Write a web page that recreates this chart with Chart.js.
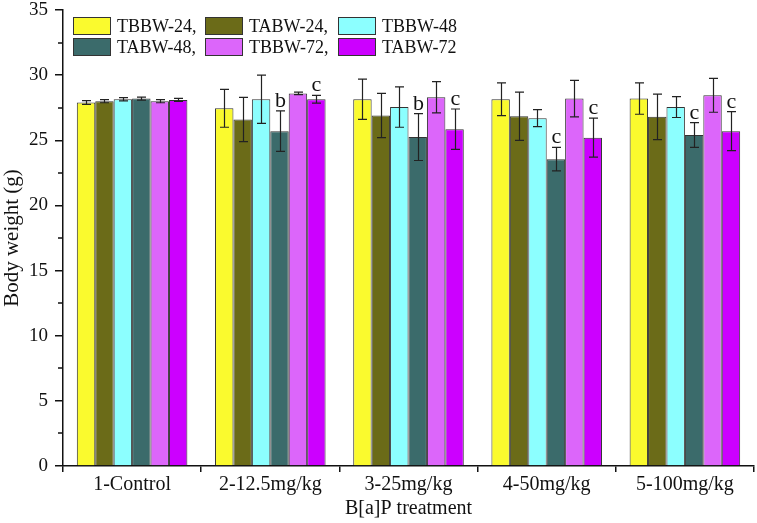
<!DOCTYPE html>
<html>
<head>
<meta charset="utf-8">
<script src="https://cdn.jsdelivr.net/npm/chart.js@4.4.1/dist/chart.umd.min.js"></script>
<style>
  html, body { margin: 0; padding: 0; background: #fff; }
  #wrap { width: 757px; height: 523px; }
</style>
</head>
<body>
<div id="wrap"><canvas id="c" width="757" height="523"></canvas></div>
<script>
const categories = ['1-Control', '2-12.5mg/kg', '3-25mg/kg', '4-50mg/kg', '5-100mg/kg'];
const seriesNames = ['TBBW-24,', 'TABW-24,', 'TBBW-48', 'TABW-48,', 'TBBW-72,', 'TABW-72'];

const tbbw24 = [27.9, 27.45, 28.15, 28.15, 28.2];
const tabw24 = [28.0, 26.6, 26.9, 26.85, 26.8];
const tbbw48 = [28.15, 28.15, 27.55, 26.7, 27.55];
const tabw48 = [28.2, 25.7, 25.25, 23.55, 25.4];
const tbbw72 = [28.0, 28.6, 28.3, 28.2, 28.45];
const tabw72 = [28.1, 28.15, 25.85, 25.2, 25.7];

const errTbbw24 = [0.15, 1.45, 1.55, 1.25, 1.2];
const errTabw24 = [0.12, 1.7, 1.7, 1.85, 1.75];
const errTbbw48 = [0.12, 1.85, 1.55, 0.65, 0.8];
const errTabw48 = [0.12, 1.55, 1.8, 0.9, 0.95];
const errTbbw72 = [0.12, 0.1, 1.2, 1.4, 1.3];
const errTabw72 = [0.12, 0.3, 1.55, 1.5, 1.5];

const sigTabw48 = ['', 'b', 'b', 'c', 'c'];
const sigTabw72 = ['', 'c', 'c', 'c', 'c'];

const yMinorTicks = [2.5, 7.5, 12.5, 17.5, 22.5, 27.5, 32.5];

const colors = ['#fafa2e', '#6b6b18', '#8cffff', '#3b6b6b', '#dc66fa', '#cc00ff'];
const values = [tbbw24, tabw24, tbbw48, tabw48, tbbw72, tabw72];
const errors = [errTbbw24, errTabw24, errTbbw48, errTabw48, errTbbw72, errTabw72];
const sigs = [null, null, null, sigTabw48, null, sigTabw72];

const serif = '"Liberation Serif", "Times New Roman", serif';

// error bars + significance letters
const errorBars = {
  id: 'errorBars',
  afterDatasetsDraw(chart) {
    const ctx = chart.ctx;
    const y = chart.scales.y;
    ctx.save();
    chart.data.datasets.forEach((ds, di) => {
      const meta = chart.getDatasetMeta(di);
      meta.data.forEach((bar, i) => {
        const v = ds.data[i], e = ds.err[i];
        const yt = y.getPixelForValue(v + e), yb = y.getPixelForValue(v - e);
        const x = Math.round(bar.x) + 0.5;
        ctx.strokeStyle = '#222';
        ctx.lineWidth = 1.2;
        ctx.beginPath();
        ctx.moveTo(x, yt); ctx.lineTo(x, yb);
        ctx.moveTo(x - 4.5, yt); ctx.lineTo(x + 4.5, yt);
        ctx.moveTo(x - 4.5, yb); ctx.lineTo(x + 4.5, yb);
        ctx.stroke();
        if (ds.sig && ds.sig[i]) {
          ctx.fillStyle = '#111';
          ctx.font = '22px ' + serif;
          ctx.textAlign = 'center';
          ctx.textBaseline = 'alphabetic';
          ctx.fillText(ds.sig[i], x, yt - 4);
        }
      });
    });
    ctx.restore();
  }
};

// short minor ticks on the y axis
const minorTicks = {
  id: 'minorTicks',
  afterDraw(chart) {
    const ctx = chart.ctx;
    const y = chart.scales.y;
    const left = chart.chartArea.left;
    ctx.save();
    ctx.strokeStyle = '#111';
    ctx.lineWidth = 1.5;
    ctx.beginPath();
    yMinorTicks.forEach(v => {
      const py = Math.round(y.getPixelForValue(v));
      ctx.moveTo(left - 5, py); ctx.lineTo(left, py);
    });
    ctx.stroke();
    ctx.restore();
  }
};

const boxLegend = {
  id: 'boxLegend',
  afterDraw(chart) {
    const ctx = chart.ctx;
    const a = chart.chartArea;
    const colX = [10, 142, 275];
    const rowY = [7, 28];
    ctx.save();
    ctx.font = '18px ' + serif;
    ctx.textBaseline = 'middle';
    ctx.textAlign = 'left';
    chart.data.datasets.forEach((ds, i) => {
      const cx = a.left + colX[i % 3];
      const cy = a.top + rowY[Math.floor(i / 3)];
      ctx.fillStyle = ds.backgroundColor;
      ctx.fillRect(cx, cy, 38, 18);
      ctx.strokeStyle = '#333';
      ctx.lineWidth = 1;
      ctx.strokeRect(cx + 0.5, cy + 0.5, 37, 17);
      ctx.fillStyle = '#111';
      ctx.fillText(ds.label, cx + 44, cy + 10);
    });
    ctx.restore();
  }
};

new Chart(document.getElementById('c'), {
  type: 'bar',
  data: {
    labels: categories,
    datasets: values.map((vals, i) => ({
      label: seriesNames[i],
      data: vals,
      err: errors[i],
      sig: sigs[i],
      backgroundColor: colors[i],
      borderColor: '#333',
      borderWidth: 1,
      categoryPercentage: 0.8,
      barPercentage: 1.0
    }))
  },
  options: {
    responsive: false,
    animation: false,
    layout: { padding: { top: 10, right: 3, left: 0, bottom: 0 } },
    plugins: { legend: { display: false }, tooltip: { enabled: false } },
    scales: {
      x: {
        grid: { display: true, offset: true, drawOnChartArea: false, tickLength: 6, color: '#111', lineWidth: 1.5 },
        border: { display: true, color: '#111', width: 1.5 },
        ticks: { color: '#111', font: { family: serif, size: 20 }, padding: 1, maxRotation: 0 },
        title: { display: true, text: 'B[a]P treatment', color: '#111', font: { family: serif, size: 20 }, padding: { top: 0, bottom: 2 } },
        afterFit(s) { s.height = 57; }
      },
      y: {
        min: 0, max: 35,
        grid: { display: true, drawOnChartArea: false, tickLength: 8, color: '#111', lineWidth: 1.5 },
        border: { display: true, color: '#111', width: 1.5 },
        ticks: {
          stepSize: 5,
          color: '#111',
          font: { family: serif, size: 19 },
          padding: 7
        },
        title: { display: true, text: 'Body weight (g)', color: '#111', font: { family: serif, size: 21 }, padding: { top: 0, bottom: 2 } },
        afterFit(s) { s.width = 63; s.paddingTop = 0; s.paddingBottom = 0; }
      }
    }
  },
  plugins: [errorBars, minorTicks, boxLegend]
});
</script>
</body>
</html>
